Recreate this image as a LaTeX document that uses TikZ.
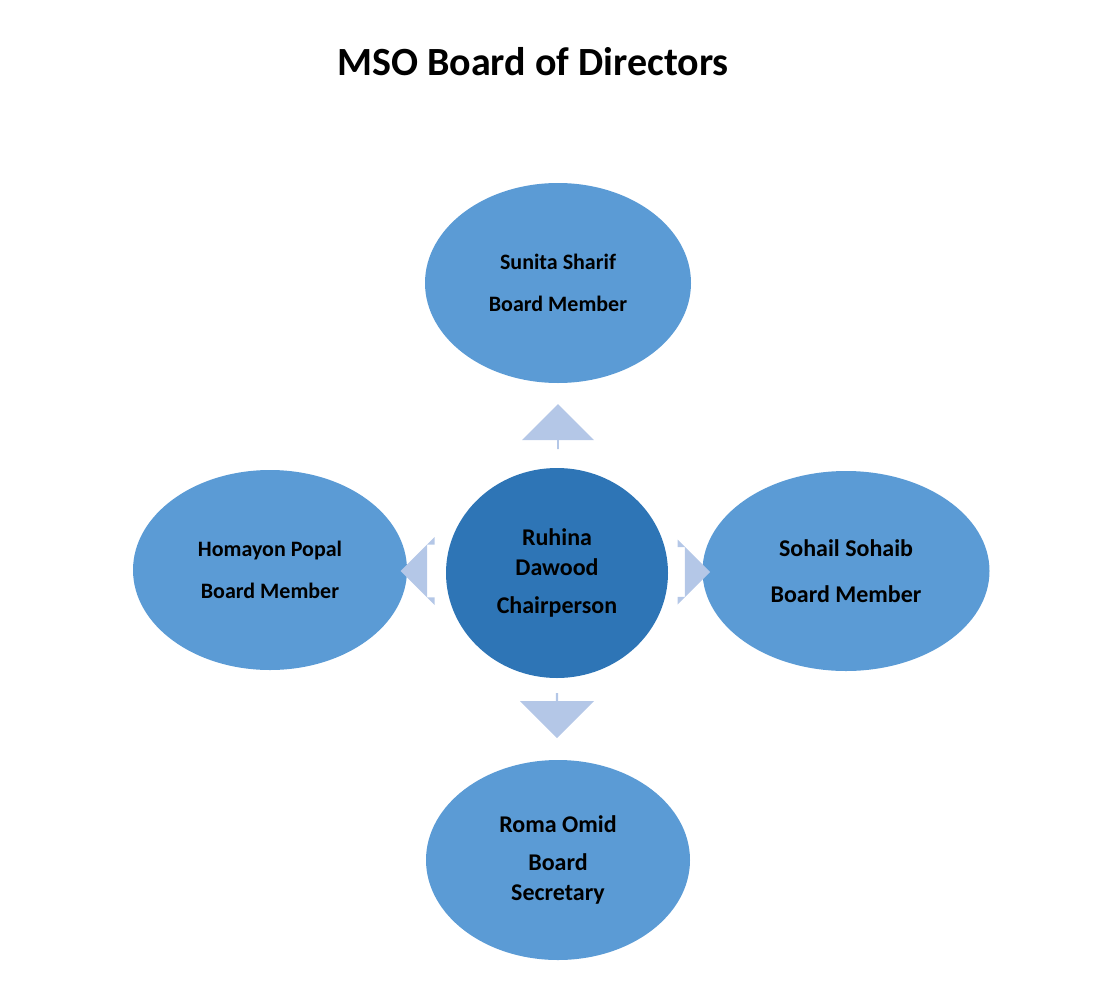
\documentclass[tikz,border=0pt]{standalone}
\usepackage{fontspec}
\setmainfont{Carlito}
\usetikzlibrary{shapes.geometric,shapes.arrows}
\definecolor{member}{HTML}{5B9BD5}
\definecolor{chair}{HTML}{2E75B6}
\definecolor{pointer}{HTML}{B4C7E7}
\begin{document}
\begin{tikzpicture}
[every node/.style={inner sep=0pt, font=\bfseries},
 member/.style={ellipse, fill=member, align=center},
 pointer/.style={single arrow, fill=pointer, inner xsep=0pt}]
\useasboundingbox (0pt,0pt) rectangle (1111pt,-990pt);
\node (title) at (533pt, -62pt) {\fontsize{40}{48}\selectfont MSO Board of Directors};
\node (chair) [ellipse, fill=chair, minimum width=222pt, minimum height=210pt, align=center, font=\bfseries\fontsize{24}{34}\selectfont] at (557pt, -573pt) {Ruhina\\[-4pt] Dawood\\[4pt] Chairperson};
\node (top) [member, minimum width=266pt, minimum height=200pt, font=\bfseries\fontsize{22}{42}\selectfont] at (558pt, -283pt) {Sunita Sharif\\ Board Member};
\node (left) [member, minimum width=274pt, minimum height=200pt, font=\bfseries\fontsize{22}{42}\selectfont] at (270pt, -570pt) {Homayon Popal\\ Board Member};
\node (right) [member, minimum width=287pt, minimum height=200pt, font=\bfseries\fontsize{24}{46}\selectfont] at (846pt, -571pt) {Sohail Sohaib\\ Board Member};
\node (bottom) [member, minimum width=264pt, minimum height=200pt, font=\bfseries\fontsize{24}{34}\selectfont] at (558pt, -860pt) {Roma Omid\\[4pt] Board\\[-4pt] Secretary};
\node (up) [pointer, shape border rotate=90, minimum height=45pt, minimum width=72pt, inner ysep=21pt] at (558pt, -427pt) {};
\node (down) [pointer, shape border rotate=270, minimum height=45pt, minimum width=74pt, inner ysep=21pt] at (557pt, -715pt) {};
\node (west) [pointer, shape border rotate=180, minimum height=20pt, minimum width=68pt, inner ysep=24pt] at (427pt, -571pt) {};
\node (east) [pointer, minimum height=15pt, minimum width=65pt, inner ysep=23pt] at (685pt, -572pt) {};
\end{tikzpicture}
\end{document}
